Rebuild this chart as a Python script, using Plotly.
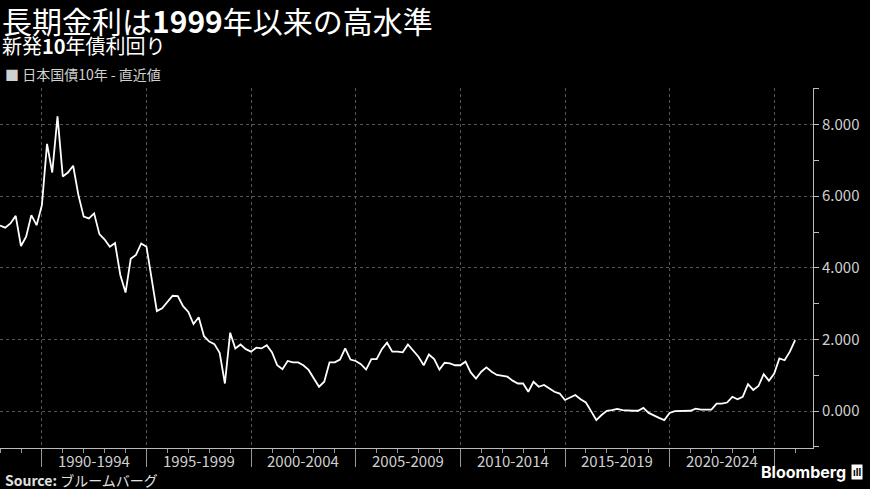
import plotly.graph_objects as go

# ==========================================
# DATA (quarter-end JGB 10y yield, %)
# ==========================================
yields = [
    5.18, 5.12, 5.24, 5.45, 4.61, 4.87, 5.47, 5.19, 5.75, 7.46,
    6.66, 8.23, 6.55, 6.66, 6.85, 6.03, 5.43, 5.38, 5.52, 4.94,
    4.79, 4.59, 4.69, 3.80, 3.31, 4.25, 4.36, 4.68, 4.59, 3.70,
    2.79, 2.87, 3.05, 3.22, 3.21, 2.93, 2.77, 2.43, 2.62, 2.09,
    1.94, 1.87, 1.63, 0.77, 2.19, 1.75, 1.86, 1.73, 1.66, 1.77,
    1.75, 1.84, 1.64, 1.28, 1.17, 1.40, 1.36, 1.36, 1.28, 1.15,
    0.91, 0.68, 0.82, 1.36, 1.36, 1.44, 1.75, 1.44, 1.40, 1.31,
    1.16, 1.45, 1.45, 1.73, 1.91, 1.66, 1.66, 1.64, 1.86, 1.70,
    1.52, 1.28, 1.58, 1.45, 1.16, 1.35, 1.33, 1.28, 1.28, 1.38,
    1.08, 0.91, 1.10, 1.22, 1.10, 1.01, 0.98, 0.96, 0.85, 0.77,
    0.77, 0.54, 0.82, 0.68, 0.73, 0.63, 0.54, 0.49, 0.31, 0.38,
    0.45, 0.33, 0.24, 0.00, -0.25, -0.11, 0.01, 0.03, 0.06, 0.03,
    0.01, 0.01, 0.01, 0.09, -0.05, -0.13, -0.19, -0.25, -0.05, 0.00,
    0.01, 0.01, 0.01, 0.07, 0.04, 0.04, 0.04, 0.21, 0.21, 0.24,
    0.40, 0.33, 0.40, 0.75, 0.59, 0.70, 1.03, 0.85, 1.05, 1.47,
    1.42, 1.66, 1.98,
]

quarter_ends = ["03-31", "06-30", "09-30", "12-31"]
dates = [f"{y}-{q}" for y in range(1987, 2026) for q in quarter_ends]
dates = dates[3:3 + len(yields)]  # starts 1987-12-31

period_labels = ["1990-1994", "1995-1999", "2000-2004", "2005-2009",
                 "2010-2014", "2015-2019", "2020-2024"]
period_starts = [1990, 1995, 2000, 2005, 2010, 2015, 2020, 2025]

FONT = "Noto Sans CJK JP"

# ==========================================
# FIGURE
# ==========================================
fig = go.Figure()
fig.add_trace(go.Scatter(
    x=dates, y=yields, mode="lines",
    line=dict(color="white", width=1.8),
    hoverinfo="skip", showlegend=False,
))

# period labels centred between the boundaries
for lab, start in zip(period_labels, period_starts):
    fig.add_annotation(
        x=f"{start + 2}-07-02", y=-0.036, xref="x", yref="paper",
        text=lab, showarrow=False, yanchor="middle",
        font=dict(family=FONT, size=15, color="#d0d0d0"),
    )

# title block
fig.add_annotation(
    x=0.0, y=1.19, xref="paper", yref="paper", xanchor="left", yanchor="middle",
    text="長期金利は<b>1999</b>年以来の高水準", showarrow=False,
    font=dict(family=FONT, size=30, color="white"),
)
fig.add_annotation(
    x=0.0, y=1.118, xref="paper", yref="paper", xanchor="left", yanchor="middle",
    text="新発<b>10</b>年債利回り", showarrow=False,
    font=dict(family=FONT, size=20, color="white"),
)
fig.add_annotation(
    x=0.004, y=1.04, xref="paper", yref="paper", xanchor="left", yanchor="middle",
    text="■ 日本国債10年 - 直近値", showarrow=False,
    font=dict(family=FONT, size=14, color="#d0d0d0"),
)
fig.add_annotation(
    x=0.004, y=-0.09, xref="paper", yref="paper", xanchor="left", yanchor="middle",
    text="<b>Source:</b> ブルームバーグ", showarrow=False,
    font=dict(family=FONT, size=14, color="#e0e0e0"),
)
fig.add_annotation(
    x=1.043, y=-0.068, xref="paper", yref="paper", xanchor="right", yanchor="middle",
    text="<b>Bloomberg</b>", showarrow=False,
    font=dict(family="Inter", size=16, color="white"),
)
fig.add_annotation(
    x=1.061, y=-0.066, xref="paper", yref="paper", xanchor="right", yanchor="middle",
    text="<b>ıll</b>", showarrow=False, bgcolor="white", borderpad=1,
    font=dict(family="Inter", size=10, color="black"),
)

fig.update_layout(
    width=870, height=489,
    margin=dict(l=0, r=57, t=88, b=41),
    paper_bgcolor="black", plot_bgcolor="black",
    font=dict(family=FONT, color="#d0d0d0"),
)

fig.update_xaxes(
    type="date",
    range=["1987-12-31", "2026-11-08"],
    tickvals=[f"{y}-01-01" for y in period_starts],
    ticktext=["" for _ in period_starts],
    ticks="outside", ticklen=18, tickcolor="#999", tickwidth=1,
    showgrid=True, gridcolor="#555", griddash="dot", gridwidth=1,
    showline=True, linecolor="#bbb", linewidth=1,
    minor=dict(dtick="M12", tick0="1988-01-01", ticks="outside", ticklen=4,
               tickcolor="#999", showgrid=False),
    zeroline=False,
)

fig.update_yaxes(
    side="right",
    range=[-1.03, 9.02],
    tickvals=[0, 2, 4, 6, 8],
    tickformat=".3f",
    ticks="outside", ticklen=5, tickcolor="#bbb",
    tickfont=dict(family=FONT, size=15, color="#d0d0d0"),
    showgrid=True, gridcolor="#555", griddash="dot", gridwidth=1,
    showline=True, linecolor="#bbb", linewidth=1,
    minor=dict(dtick=1, ticks="outside", ticklen=5, tickcolor="#bbb", showgrid=False),
    zeroline=False,
)

fig.write_html(
    "out.html",
    config={"displayModeBar": False},
    post_script="document.body.style.margin='0';document.body.style.background='black';",
)
